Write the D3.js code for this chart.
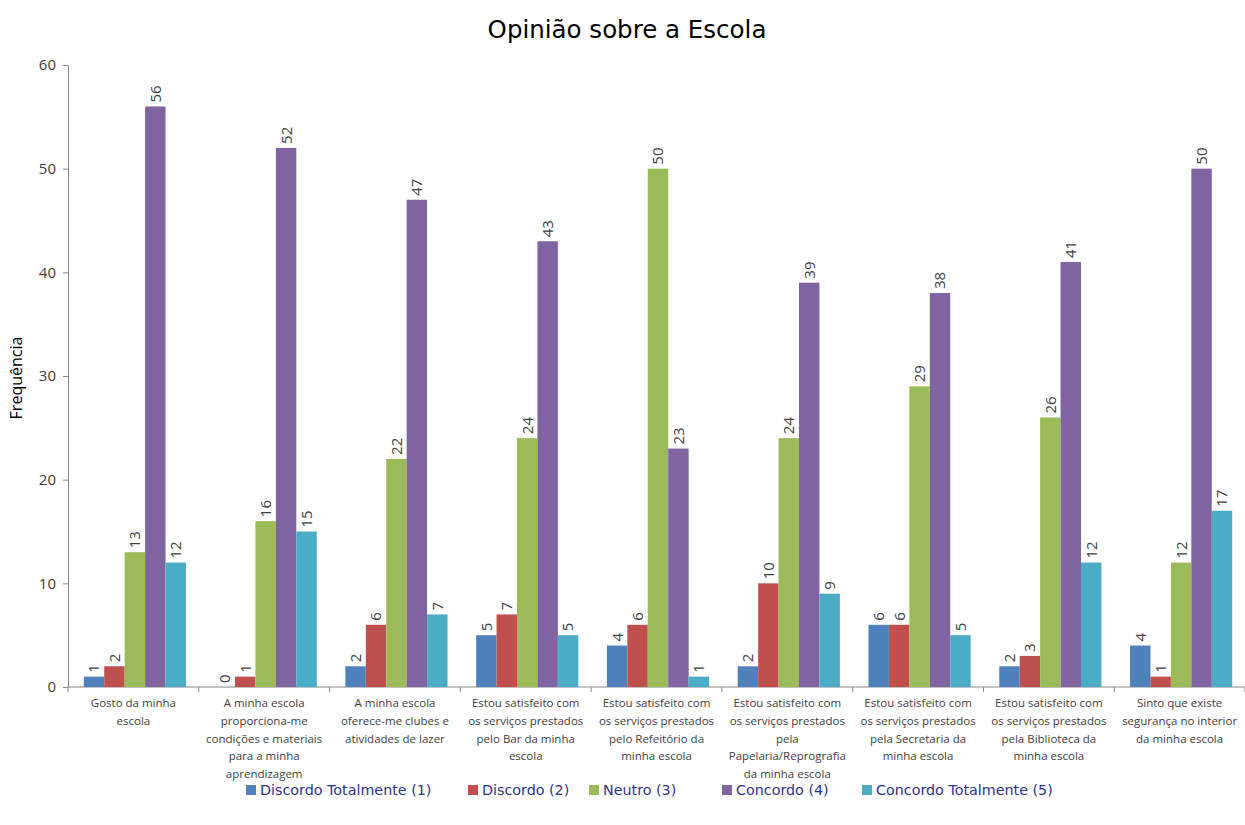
<!DOCTYPE html>
<html lang="pt">
<head>
<meta charset="UTF-8">
<title>Opinião sobre a Escola</title>
<style>
    body { margin: 0; background: #fff; }
    .axis .domain { stroke: #868686; }
    .axis line { stroke: #868686; }
</style>
</head>
<body>
<svg width="1245" height="825"></svg>
<script src="https://d3js.org/d3.v7.min.js"></script>
<script>
// categories (x label lines as they wrap in the picture)
var categories = [
    ["Gosto da minha", "escola"],
    ["A minha escola", "proporciona-me", "condições e materiais", "para a minha", "aprendizagem"],
    ["A minha escola", "oferece-me clubes e", "atividades de lazer"],
    ["Estou satisfeito com", "os serviços prestados", "pelo Bar da minha", "escola"],
    ["Estou satisfeito com", "os serviços prestados", "pelo Refeitório da", "minha escola"],
    ["Estou satisfeito com", "os serviços prestados", "pela", "Papelaria/Reprografia", "da minha escola"],
    ["Estou satisfeito com", "os serviços prestados", "pela Secretaria da", "minha escola"],
    ["Estou satisfeito com", "os serviços prestados", "pela Biblioteca da", "minha escola"],
    ["Sinto que existe", "segurança no interior", "da minha escola"]
];
var seriesNames = ["Discordo Totalmente (1)", "Discordo (2)", "Neutro (3)", "Concordo (4)", "Concordo Totalmente (5)"];
var discordoTotalmente = [1, 0, 2, 5, 4, 2, 6, 2, 4];
var discordo           = [2, 1, 6, 7, 6, 10, 6, 3, 1];
var neutro             = [13, 16, 22, 24, 50, 24, 29, 26, 12];
var concordo           = [56, 52, 47, 43, 23, 39, 38, 41, 50];
var concordoTotalmente = [12, 15, 7, 5, 1, 9, 5, 12, 17];
var yTicks = [0, 10, 20, 30, 40, 50, 60];
var colors = ["#4f81bd", "#c0504d", "#9bbb59", "#8064a2", "#4bacc6"];

var series = [discordoTotalmente, discordo, neutro, concordo, concordoTotalmente];

var svg = d3.select("svg"),
    margin = {top: 65, right: 0, bottom: 138, left: 68},
    width = +svg.attr("width") - margin.left - margin.right,
    height = +svg.attr("height") - margin.top - margin.bottom,
    g = svg.append("g").attr("transform", "translate(" + margin.left + "," + margin.top + ")");

var x0 = d3.scaleBand().domain(d3.range(categories.length)).range([0, width]).paddingInner(0);
var x1 = d3.scaleBand().domain(d3.range(series.length)).range([0, x0.bandwidth()]).paddingInner(0).paddingOuter(0.7);
var y = d3.scaleLinear().domain([0, 60]).range([height, 0]);
var color = d3.scaleOrdinal().domain(d3.range(series.length)).range(colors);

// title
svg.append("text")
    .attr("x", 627).attr("y", 38)
    .attr("text-anchor", "middle")
    .attr("font-family", "DejaVu Sans, sans-serif")
    .attr("font-size", 24.5)
    .attr("fill", "#000")
    .text("Opinião sobre a Escola");

// y axis
var yAxis = g.append("g")
    .attr("class", "axis")
    .call(d3.axisLeft(y).tickValues(yTicks).tickSize(5).tickSizeOuter(0).tickPadding(7));
yAxis.selectAll("text")
    .attr("font-family", "Open Sans, sans-serif")
    .attr("font-size", 15)
    .attr("fill", "#404040");

svg.append("text")
    .attr("transform", "translate(22," + (margin.top + height / 2 + 2) + ") rotate(-90)")
    .attr("text-anchor", "middle")
    .attr("font-family", "Open Sans, sans-serif")
    .attr("font-size", 16)
    .attr("fill", "#000")
    .text("Frequência");

// x axis: ticks at category boundaries
var xAxis = g.append("g")
    .attr("class", "axis")
    .attr("transform", "translate(0," + height + ")");
xAxis.append("line")
    .attr("x1", 0).attr("x2", width)
    .attr("stroke", "#868686");
xAxis.selectAll(".tick")
    .data(d3.range(categories.length + 1))
    .enter().append("line")
    .attr("x1", function(d) { return d < categories.length ? x0(d) : width; })
    .attr("x2", function(d) { return d < categories.length ? x0(d) : width; })
    .attr("y1", 0).attr("y2", 5)
    .attr("stroke", "#868686");

var labels = xAxis.selectAll(".cat")
    .data(categories)
    .enter().append("text")
    .attr("class", "cat")
    .attr("text-anchor", "middle")
    .attr("font-family", "Open Sans, sans-serif")
    .attr("font-size", 11.5)
    .attr("fill", "#404040")
    .attr("transform", function(d, i) { return "translate(" + (x0(i) + x0.bandwidth() / 2) + ",0)"; });
labels.selectAll("tspan")
    .data(function(d) { return d; })
    .enter().append("tspan")
    .attr("x", 0)
    .attr("y", function(d, j) { return 20 + j * 17.8; })
    .text(function(d) { return d; });

// bars
var groups = g.append("g")
    .selectAll("g")
    .data(categories)
    .enter().append("g")
    .attr("transform", function(d, i) { return "translate(" + (x0(i) + 1.5) + ",0)"; });

groups.selectAll("rect")
    .data(function(d, i) { return series.map(function(s, k) { return {k: k, v: s[i]}; }); })
    .enter().append("rect")
    .attr("x", function(d) { return x1(d.k); })
    .attr("y", function(d) { return y(d.v); })
    .attr("width", x1.bandwidth())
    .attr("height", function(d) { return height - y(d.v); })
    .attr("fill", function(d) { return color(d.k); });

groups.selectAll("text")
    .data(function(d, i) { return series.map(function(s, k) { return {k: k, v: s[i]}; }); })
    .enter().append("text")
    .attr("transform", function(d) {
        return "translate(" + (x1(d.k) + x1.bandwidth() / 2) + "," + (y(d.v) - 4) + ") rotate(-90)";
    })
    .attr("dy", "0.36em")
    .attr("text-anchor", "start")
    .attr("font-family", "Open Sans, sans-serif")
    .attr("font-size", 15)
    .attr("fill", "#404040")
    .text(function(d) { return d.v; });

// legend
var legendX = [246, 468, 589, 722, 862];
var legend = svg.append("g")
    .selectAll("g")
    .data(seriesNames)
    .enter().append("g")
    .attr("transform", function(d, i) { return "translate(" + legendX[i] + ",790)"; });
legend.append("rect")
    .attr("x", 0).attr("y", -5)
    .attr("width", 10).attr("height", 10)
    .attr("fill", function(d, i) { return colors[i]; });
legend.append("text")
    .attr("x", 14)
    .attr("dy", "0.35em")
    .attr("font-family", "DejaVu Sans, sans-serif")
    .attr("font-size", 14.3)
    .attr("fill", "#2e3192")
    .text(function(d) { return d; });
</script>
</body>
</html>
